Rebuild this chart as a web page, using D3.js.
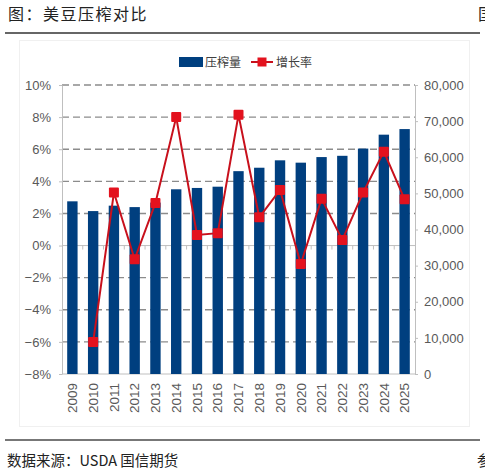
<!DOCTYPE html>
<html>
<head>
<meta charset="utf-8">
<script src="https://cdn.jsdelivr.net/npm/d3@7"></script>
<style>
  body { margin: 0; background: #fff; }
  svg { display: block; }
  .tick text { font-family: "Liberation Sans", Arial, sans-serif; fill: #595959; }
</style>
</head>
<body>
<svg id="chart" width="485" height="472"></svg>
<script>
const years = ["2009","2010","2011","2012","2013","2014","2015","2016","2017",
               "2018","2019","2020","2021","2022","2023","2024","2025"];
// 压榨量 (right axis)
const crush = [47800,45100,46600,46200,47450,51130,51500,51850,56150,
               57100,59150,58500,60050,60400,62400,66250,67800];
// 增长率 % (left axis), 2009 has no value
const growth = [null,-6.0,3.3,-0.85,2.65,8.0,0.66,0.77,8.14,
                1.76,3.46,-1.15,2.92,0.35,3.3,5.85,2.88];
const leftTicks = [-8,-6,-4,-2,0,2,4,6,8,10];
const rightTicks = [0,10000,20000,30000,40000,50000,60000,70000,80000];

const svg = d3.select("#chart");
const cjk = '"Noto Sans CJK SC", sans-serif';

const plotL = 62, plotR = 415, plotT = 85, plotB = 374;

const x = d3.scaleBand()
    .domain(years)
    .range([plotL, plotR])
    .paddingInner(0.5)
    .paddingOuter(0.25);
const yL = d3.scaleLinear().domain([-8, 10]).range([plotB, plotT]);
const yR = d3.scaleLinear().domain([0, 80000]).range([plotB, plotT]);

// page frame: title, rules, footer
svg.append("text")
    .attr("x", 8).attr("y", 20)
    .attr("font-family", cjk).attr("font-size", 16)
    .attr("letter-spacing", 1.5).attr("fill", "#222")
    .text("图：美豆压榨对比");
// characters cut off at the right edge, as in the source page
svg.append("text")
    .attr("x", 478).attr("y", 20)
    .attr("font-family", cjk).attr("font-size", 16).attr("fill", "#222")
    .text("国");
svg.append("line")
    .attr("x1", 5).attr("x2", 480).attr("y1", 33).attr("y2", 33)
    .attr("stroke", "#333").attr("stroke-width", 1.3);
svg.append("rect")
    .attr("x", 19.5).attr("y", 40.5).attr("width", 450).attr("height", 386)
    .attr("fill", "none").attr("stroke", "#f0f0f0");
svg.append("line")
    .attr("x1", 5).attr("x2", 480).attr("y1", 440).attr("y2", 440)
    .attr("stroke", "#777").attr("stroke-width", 2);
svg.append("text")
    .attr("x", 7).attr("y", 466)
    .attr("font-family", cjk).attr("font-size", 14.5).attr("fill", "#222")
    .text("数据来源：USDA 国信期货");
svg.append("text")
    .attr("x", 477).attr("y", 466)
    .attr("font-family", cjk).attr("font-size", 14.5).attr("fill", "#222")
    .text("参");

// gridlines
svg.append("g")
    .selectAll("line")
    .data(leftTicks)
    .join("line")
        .attr("x1", plotL).attr("x2", plotR)
        .attr("y1", d => yL(d)).attr("y2", d => yL(d))
        .attr("stroke", d => (d === 0 || d === -8) ? "#bfbfbf" : "#8c8c8c")
        .attr("stroke-width", d => (d === 0 || d === -8) ? 1 : 1.4)
        .attr("stroke-dasharray", d => (d === 0 || d === -8) ? null : "7,4");

// bars
svg.append("g")
    .selectAll("rect")
    .data(years)
    .join("rect")
        .attr("x", d => x(d))
        .attr("width", x.bandwidth())
        .attr("y", (d, i) => yR(crush[i]))
        .attr("height", (d, i) => yR(0) - yR(crush[i]))
        .attr("fill", "#003f7f");

// category ticks on the 0% line
const half = x.step() * x.paddingInner() / 2;
svg.append("g")
    .selectAll("line")
    .data(years.slice(1))
    .join("line")
        .attr("x1", d => x(d) - half).attr("x2", d => x(d) - half)
        .attr("y1", yL(0)).attr("y2", yL(0) + 4)
        .attr("stroke", "#bfbfbf");

// axes
const gL = svg.append("g")
    .attr("transform", `translate(${plotL},0)`)
    .call(d3.axisLeft(yL).tickValues(leftTicks)
        .tickFormat(d => d3.format("d")(d) + "%")
        .tickSize(3).tickSizeOuter(0).tickPadding(8));
const gR = svg.append("g")
    .attr("transform", `translate(${plotR},0)`)
    .call(d3.axisRight(yR).tickValues(rightTicks)
        .tickFormat(d3.format(","))
        .tickSize(3).tickSizeOuter(0).tickPadding(6));
[gL, gR].forEach(g => {
    g.select(".domain").attr("stroke", "#bfbfbf");
    g.selectAll(".tick line").attr("stroke", "#bfbfbf");
    g.selectAll(".tick text").attr("font-size", 13);
});

const gX = svg.append("g")
    .attr("transform", `translate(0,${plotB})`)
    .call(d3.axisBottom(x).tickSize(0).tickSizeOuter(0));
gX.select(".domain").remove();
gX.selectAll(".tick text")
    .attr("transform", "rotate(-90)")
    .attr("text-anchor", "end")
    .attr("x", -9).attr("y", 0)
    .attr("dy", "0.35em")
    .attr("font-size", 13.5);

// growth line
const pts = years.map((d, i) => ({ year: d, v: growth[i] })).filter(p => p.v !== null);
const line = d3.line()
    .x(p => x(p.year) + x.bandwidth() / 2)
    .y(p => yL(p.v));
svg.append("path")
    .datum(pts)
    .attr("d", line)
    .attr("fill", "none")
    .attr("stroke", "#c8101c")
    .attr("stroke-width", 2);
svg.append("g")
    .selectAll("rect")
    .data(pts)
    .join("rect")
        .attr("x", p => x(p.year) + x.bandwidth() / 2 - 5)
        .attr("y", p => yL(p.v) - 5)
        .attr("width", 10).attr("height", 10)
        .attr("rx", 1)
        .attr("fill", "#e3121e");

// legend
const lg = svg.append("g").attr("font-family", cjk).attr("font-size", 12).attr("fill", "#404040");
lg.append("rect")
    .attr("x", 179).attr("y", 57).attr("width", 24).attr("height", 10)
    .attr("fill", "#003f7f");
lg.append("text").attr("x", 205).attr("y", 66.5).text("压榨量");
lg.append("line")
    .attr("x1", 251).attr("x2", 273).attr("y1", 62).attr("y2", 62)
    .attr("stroke", "#c8101c").attr("stroke-width", 2);
lg.append("rect")
    .attr("x", 257.5).attr("y", 57.5).attr("width", 9).attr("height", 9)
    .attr("fill", "#e3121e");
lg.append("text").attr("x", 276).attr("y", 66.5).text("增长率");
</script>
</body>
</html>
